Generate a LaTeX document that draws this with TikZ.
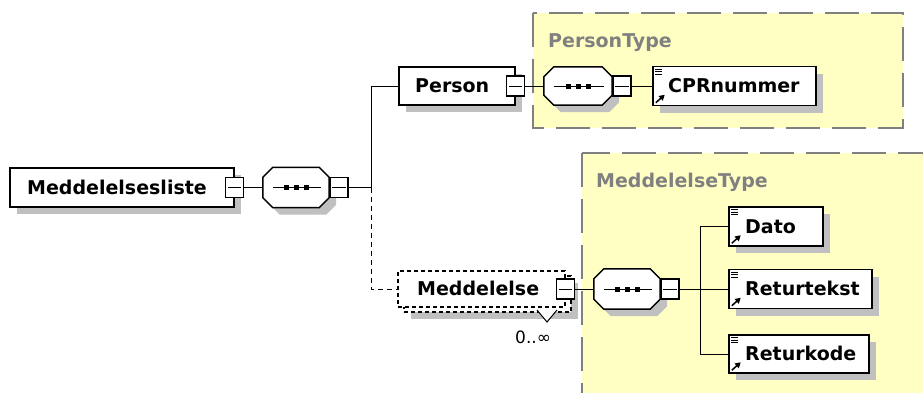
\documentclass[tikz,border=0pt]{standalone}
\usepackage{fontspec}
\setmainfont{DejaVu Sans}
\usetikzlibrary{calc,shadows,arrows.meta}
\definecolor{yel}{HTML}{FFFFC4}
\definecolor{ybd}{HTML}{808080}
\definecolor{shd}{HTML}{C0C0C0}
\definecolor{tgr}{HTML}{808080}
\tikzset{
 shad/.style={drop shadow={shadow xshift=7pt,shadow yshift=-7pt,fill=shd,opacity=1}},
 elbox/.style={rectangle,draw=black,line width=1.5pt,fill=white,inner sep=0pt,shad},
 dbox/.style={rectangle,draw=black,line width=1.3pt,fill=white,inner sep=0pt,dash pattern=on 4pt off 3pt},
 colbox/.style={rectangle,draw=black,line width=1.4pt,fill=white,inner sep=0pt,minimum width=18pt,minimum height=20pt},
 octo/.style={draw=black,line width=1.5pt,fill=white,shad},
 conn/.style={draw=black,line width=1pt},
 dconn/.style={conn,dash pattern=on 5pt off 4pt},
 lbl/.style={font=\fontsize{19}{22}\selectfont\bfseries,inner sep=0pt,anchor=base west},
 tlbl/.style={lbl,text=tgr},
 region/.style={fill=yel,draw=ybd,line width=1.2pt,dash pattern=on 34pt off 12pt},
 anchorbox/.style={rectangle,inner sep=0pt},
}
\newcommand\seqocto[1]{%
 \draw[octo] ($(#1.north west)+(10,0)$) -- ($(#1.north east)+(-10,0)$) -- ($(#1.north east)+(0,10)$) -- ($(#1.south east)+(0,-10)$) -- ($(#1.south east)+(-10,0)$) -- ($(#1.south west)+(10,0)$) -- ($(#1.south west)+(0,-10)$) -- ($(#1.north west)+(0,10)$) -- cycle;
 \draw[conn] ($(#1.west)+(10,0)$) -- ($(#1.east)+(-8,0)$);
 \foreach \dx in {-10,0,10} \fill ($(#1.center)+(\dx-2.5,-2.5)$) rectangle ++(5,5);
}
\newcommand\colminus[1]{\draw[line width=1pt] ($(#1.west)+(3,0)$) -- ($(#1.east)+(-3,0)$);}
\newcommand\elicons[1]{%
 \foreach \k in {3.5,6,8.5} \draw[line width=1pt] ($(#1.north west)+(3,\k)$) -- ++(7,0);
 \draw[line width=1.5pt,-{Triangle[length=5.5pt,width=6pt]}] ($(#1.south west)+(3.5,-3.5)$) -- ++(9,-8);
}
\begin{document}
\begin{tikzpicture}[x=1pt,y=-1pt]
\useasboundingbox (0,0) rectangle (923,392);
\clip (0,0) rectangle (923,392);
\fill[white] (0,0) rectangle (923,392);
% type regions
\path[region] (533,13) rectangle (903,128);
\path[region] (582,153) rectangle (950,420);
\node[tlbl] (ptype) at (548,47) {PersonType};
\node[tlbl] (mtype) at (596,187) {MeddelelseType};
% root element
\node[elbox,minimum width=224pt,minimum height=39pt] (liste) at (122,187.5) {};
\node[lbl] (tliste) at (27,194) {Meddelelsesliste};
\node[colbox] (cliste) at (liste.east) {};
\colminus{cliste}
\node[anchorbox,minimum width=66pt,minimum height=40pt] (o1) at (296,187.5) {};
\seqocto{o1}
\node[colbox,anchor=west] (co1) at (o1.east) {};
\colminus{co1}
\coordinate (j1) at (371,187.5);
% Person
\node[elbox,minimum width=116pt,minimum height=38pt] (person) at (457,86) {};
\node[lbl] (tperson) at (415,92.5) {Person};
\node[colbox] (cperson) at (person.east) {};
\colminus{cperson}
\node[anchorbox,minimum width=68pt,minimum height=38pt] (o2) at (578,86) {};
\seqocto{o2}
\node[colbox,anchor=west] (co2) at (o2.east) {};
\colminus{co2}
\node[elbox,minimum width=163pt,minimum height=39pt] (cpr) at (734.5,86) {};
\elicons{cpr}
\node[lbl] (tcpr) at (668,92.5) {CPRnummer};
% Meddelelse (repeated)
\node[dbox,shad,minimum width=167pt,minimum height=36pt] (mback) at (487.5,294) {};
\draw[line width=1pt,fill=white] (537,310) -- (547,322) -- (557,310);
\node[dbox,minimum width=167pt,minimum height=36pt] (mfront) at (481.5,289) {};
\node[lbl] (tmeld) at (417,295.5) {Meddelelse};
\node[colbox] (cmeld) at (mfront.east) {};
\colminus{cmeld}
\node[font=\fontsize{17}{20}\selectfont,inner sep=0pt,anchor=base west] (occ) at (515,343) {0..∞};
\node[anchorbox,minimum width=66pt,minimum height=40pt] (o3) at (627,289) {};
\seqocto{o3}
\node[colbox,anchor=west] (co3) at (o3.east) {};
\colminus{co3}
\coordinate (j2) at (700,289);
\node[elbox,minimum width=94pt,minimum height=39pt] (dato) at (776,226.5) {};
\elicons{dato}
\node[lbl] (tdato) at (745,233) {Dato};
\node[elbox,minimum width=143pt,minimum height=39pt] (rtekst) at (800.5,289) {};
\elicons{rtekst}
\node[lbl] (trtekst) at (745,295.5) {Returtekst};
\node[elbox,minimum width=140pt,minimum height=38pt] (rkode) at (799,354) {};
\elicons{rkode}
\node[lbl] (trkode) at (745,360.5) {Returkode};
% connectors
\draw[conn] (cliste.east) -- (o1.west);
\draw[conn] (co1.east) -- (j1);
\draw[conn] (j1) |- (person.west);
\draw[dconn] (j1) |- (mfront.west);
\draw[conn] (cperson.east) -- (o2.west);
\draw[conn] (co2.east) -- (cpr.west);
\draw[conn] (cmeld.east) -- (o3.west);
\draw[conn] (co3.east) -- (j2);
\draw[conn] (j2) |- (dato.west);
\draw[conn] (j2) -- (rtekst.west);
\draw[conn] (j2) |- (rkode.west);
\end{tikzpicture}
\end{document}
